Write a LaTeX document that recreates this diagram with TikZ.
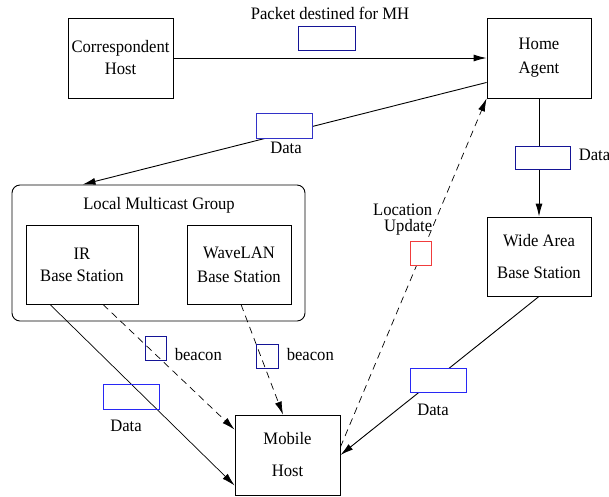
\documentclass[tikz,border=0pt]{standalone}
\usepackage{fontspec}
\setmainfont{Liberation Serif}[FakeStretch=0.95]
\usetikzlibrary{arrows.meta}
\definecolor{pktnavy}{RGB}{20,20,150}
\definecolor{pktmid}{RGB}{50,50,200}
\definecolor{pktblue}{RGB}{40,40,245}
\definecolor{pktred}{RGB}{240,60,60}
\begin{document}
\begin{tikzpicture}[x=1pt,y=-1pt,line width=.9pt,
  font=\fontsize{17.5}{21}\selectfont,
  box/.style={draw,inner sep=0pt,align=center},
  pkt/.style={draw=#1,line width=1pt,inner sep=0pt},
  arr/.style={-{Latex[length=13pt,width=7pt]}},
  dsh/.style={arr,dash pattern=on 7pt off 5pt}]
\useasboundingbox (0,0) rectangle (609,496);
% hosts and base stations
\node[box,minimum width=105pt,minimum height=80pt] (ch) at (120.5,58) {Correspondent\\[1pt]Host};
\node[box,minimum width=104pt,minimum height=80pt] (ha) at (539,58) {Home\\[3pt]Agent};
\node[box,minimum width=104pt,minimum height=79pt] (wa) at (539,256.5) {Wide Area\\[11pt]Base Station};
\node[draw,rounded corners=8pt,minimum width=293pt,minimum height=136pt] (lmg) at (158.5,253) {};
\node (lmgtext) at (159,205) {Local Multicast Group};
\node[box,minimum width=112pt,minimum height=79pt] (ir) at (82,264.5) {IR\\[1pt]Base Station};
\node[box,minimum width=104pt,minimum height=79pt] (wl) at (239,264.5) {WaveLAN\\[3pt]Base Station};
\node[box,minimum width=105pt,minimum height=80pt] (mh) at (287.5,455) {Mobile\\[11pt]Host};
% connectors
\draw[arr] (ch) -- (ha);
\draw[arr] ([yshift=16pt]ha.south west) -- ([xshift=-76pt]lmg.north);
\draw[arr] (ha.south) -- (wa.north);
\draw[arr] (wa.south) -- (mh.east);
\draw[arr,line width=.7pt] ([xshift=-32pt]ir.south) -- ([yshift=10pt]mh.south west);
\draw[dsh,line width=.7pt] ([xshift=21pt]ir.south) -- ([yshift=-15pt]mh.north west);
\draw[dsh,line width=.7pt] ([xshift=2pt]wl.south) -- ([xshift=-4.5pt]mh.north);
\draw[dsh,line width=.7pt] ([yshift=8pt]mh.east) -- (ha.south west);
% packets
\node (pkttext) at (330,13) {Packet destined for MH};
\node[pkt=pktnavy,fill=white,minimum width=57pt,minimum height=24pt] (p1) at (326.5,38) {};
\node[pkt=pktmid,fill=white,minimum width=56pt,minimum height=25pt] (p2) at (284,125.5) {};
\node (p2text) at (286,148) {Data};
\node[pkt=pktnavy,fill=white,minimum width=55pt,minimum height=23pt] (p3) at (542.5,157.5) {};
\node[anchor=west] (p3text) at (575,155) {Data};
\node[pkt=pktred,fill=white,minimum width=21pt,minimum height=24pt] (p4) at (420.5,253) {};
\node[anchor=east,align=right,font=\fontsize{17.5}{16}\selectfont] (p4text) at (436,220) {Location\\Update};
\node[pkt=pktnavy,minimum width=21pt,minimum height=24pt] (p5) at (155.5,348) {};
\node[anchor=west] (p5text) at (171,355) {beacon};
\node[pkt=pktnavy,minimum width=22pt,minimum height=24pt] (p6) at (267,356) {};
\node[anchor=west] (p6text) at (283,355) {beacon};
\node[pkt=pktblue,minimum width=56pt,minimum height=25pt] (p7) at (131,396.5) {};
\node (p7text) at (126,426) {Data};
\node[pkt=pktblue,fill=white,minimum width=56pt,minimum height=24pt] (p8) at (438,380) {};
\node (p8text) at (433,410) {Data};
\end{tikzpicture}
\end{document}
